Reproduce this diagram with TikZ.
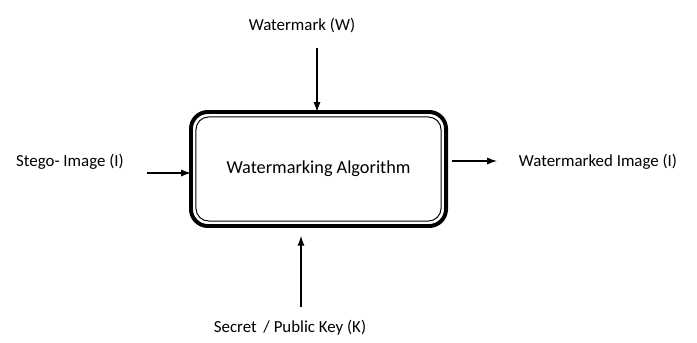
\documentclass[tikz,border=0pt]{standalone}
\usepackage{fontspec}
\setmainfont{Carlito}
\usetikzlibrary{arrows.meta, positioning}

\tikzset{
  labeltext/.style = {font=\fontsize{12}{14}\selectfont, inner sep=0pt},
  feed/.style = {-{Latex[length=7pt, width=5pt]}, line width=0.8pt},
}

\begin{document}
\begin{tikzpicture}[x=0.025cm, y=-0.025cm]
\useasboundingbox (0,0) rectangle (697,342);

\node[draw, line width=2.8pt, outer sep=0pt, rounded corners=12,
	minimum width=6.375cm, minimum height=2.85cm,
	font=\fontsize{13}{15}\selectfont] (algo) at (318.5,169) {Watermarking Algorithm};
\draw[line width=0.7pt, rounded corners=9]
	([shift={(5,-5)}]algo.south west) rectangle ([shift={(-5,5)}]algo.north east);

\node[labeltext] (wmark) at (302,25) {Watermark (W)};
\node[labeltext] (stego) at (70,162) {Stego- Image (I)};
\node[labeltext] (marked) at (598,162) {Watermarked Image (I)};
\node[labeltext] (key) at (290,328) {Secret \,/ Public Key (K)};

\coordinate (wstart) at (317,48);
\coordinate (sstart) at (147,173);
\coordinate (mend) at (497,161);
\coordinate (kstart) at (301,307);

\draw[feed] (wstart) -- (wstart |- algo.north);
\draw[feed] (sstart) -- (sstart -| algo.west);
\draw[feed, shorten <=4pt] (algo.east |- mend) -- (mend);
\draw[feed, shorten >=7pt] (kstart) -- (kstart |- algo.south);
\end{tikzpicture}
\end{document}
